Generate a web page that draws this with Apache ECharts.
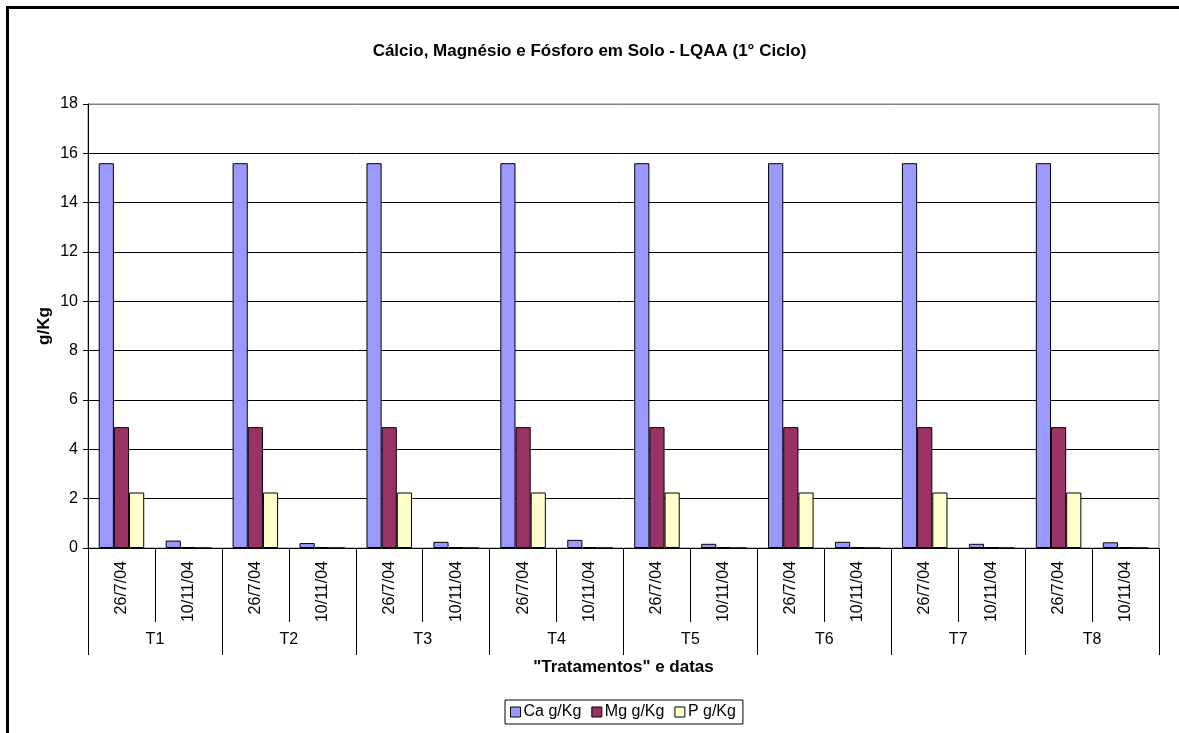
<!DOCTYPE html>
<html>
<head>
<meta charset="utf-8">
<script src="https://cdn.jsdelivr.net/npm/echarts@6/dist/echarts.min.js"></script>
<style>
  html, body { margin: 0; padding: 0; background: #fff; }
  #frame { position: absolute; left: 6px; top: 6px; width: 1200px; height: 760px;
           border-left: 3px solid #000; border-top: 3px solid #000; box-sizing: border-box; }
  #chart { position: absolute; left: 0; top: 0; width: 1179px; height: 733px; }
</style>
</head>
<body>
<div id="frame"></div>
<div id="chart"></div>
<script>
// Treatments and sampling dates
const groups = ['T1', 'T2', 'T3', 'T4', 'T5', 'T6', 'T7', 'T8'];
const dates = ['26/7/04', '10/11/04'];
const yTicks = [0, 2, 4, 6, 8, 10, 12, 14, 16, 18];

// Values per treatment/date pair (g/Kg)
const caValues = [15.6, 0.3, 15.6, 0.2, 15.6, 0.25, 15.6, 0.33, 15.6, 0.17, 15.6, 0.25, 15.6, 0.17, 15.6, 0.23];
const mgValues = [4.9, 0.04, 4.9, 0.04, 4.9, 0.04, 4.9, 0.04, 4.9, 0.04, 4.9, 0.04, 4.9, 0.04, 4.9, 0.04];
const pValues  = [2.25, 0, 2.25, 0, 2.25, 0, 2.25, 0, 2.25, 0, 2.25, 0, 2.25, 0, 2.25, 0];

const dateLabels = [];
groups.forEach(() => dates.forEach(d => dateLabels.push(d)));

const font = 'Liberation Sans, Arial, sans-serif';
const chart = echarts.init(document.getElementById('chart'), null, { renderer: 'canvas' });

const barStyle = (color) => ({ color: color, borderColor: '#000', borderWidth: 1 });

chart.setOption({
  animation: false,
  backgroundColor: 'transparent',
  title: {
    text: 'Cálcio, Magnésio e Fósforo em Solo - LQAA (1° Ciclo)',
    left: 'center',
    top: 38,
    textStyle: { fontFamily: font, fontSize: 17, fontWeight: 'bold', color: '#000' }
  },
  legend: {
    left: 505,
    top: 700,
    itemWidth: 10,
    itemHeight: 10,
    itemGap: 10,
    padding: [4, 7, 4, 5],
    borderColor: '#000',
    borderWidth: 1,
    icon: 'rect',
    itemStyle: { borderColor: '#000', borderWidth: 1 },
    textStyle: { fontFamily: font, fontSize: 16, color: '#000', padding: [0, 0, 0, -2] },
    data: ['Ca g/Kg', 'Mg g/Kg', 'P g/Kg']
  },
  grid: {
    left: 88, right: 20, top: 104, bottom: 185,
    show: true, borderColor: '#808080', borderWidth: 1, backgroundColor: '#fff'
  },
  xAxis: [
    {
      type: 'category',
      data: dateLabels,
      position: 'bottom',
      boundaryGap: true,
      axisLine: { show: true, lineStyle: { color: '#000', width: 1 } },
      axisTick: { show: true, length: 74, interval: 0, lineStyle: { color: '#000' } },
      axisLabel: { interval: 0, rotate: 90, margin: 13, fontFamily: font, fontSize: 16, color: '#000' }
    },
    {
      type: 'category',
      data: groups,
      position: 'bottom',
      boundaryGap: true,
      axisLine: { show: false },
      axisTick: { show: true, length: 107, interval: 0, lineStyle: { color: '#000' } },
      axisLabel: { interval: 0, margin: 84, fontFamily: font, fontSize: 16, color: '#000' },
      name: '"Tratamentos" e datas',
      nameLocation: 'middle',
      nameGap: 111,
      nameMoveOverlap: false,
      nameTextStyle: { fontFamily: font, fontSize: 17, fontWeight: 'bold', color: '#000' }
    }
  ],
  yAxis: {
    type: 'value',
    min: 0,
    max: 18,
    interval: 2,
    name: 'g/Kg',
    nameLocation: 'middle',
    nameGap: 35,
    nameMoveOverlap: false,
    nameTextStyle: { fontFamily: font, fontSize: 17, fontWeight: 'bold', color: '#000' },
    axisLine: { show: true, lineStyle: { color: '#000', width: 1 } },
    axisTick: { show: true, length: 5, lineStyle: { color: '#000' } },
    axisLabel: {
      margin: 10, fontFamily: font, fontSize: 16, color: '#000',
      formatter: (v) => yTicks.includes(v) ? String(v) : ''
    },
    splitLine: {
      show: true,
      lineStyle: { color: ['#000', '#000', '#000', '#000', '#000', '#000', '#000', '#000', '#000', '#808080'], width: 1 }
    }
  },
  series: [
    { name: 'Ca g/Kg', type: 'bar', xAxisIndex: 0, data: caValues, barGap: '0%', barCategoryGap: '32%', itemStyle: barStyle('#9999FF') },
    { name: 'Mg g/Kg', type: 'bar', xAxisIndex: 0, data: mgValues, barGap: '0%', barCategoryGap: '32%', itemStyle: barStyle('#993366') },
    { name: 'P g/Kg',  type: 'bar', xAxisIndex: 0, data: pValues,  barGap: '0%', barCategoryGap: '32%', itemStyle: barStyle('#FFFFCC') }
  ]
});
</script>
</body>
</html>
